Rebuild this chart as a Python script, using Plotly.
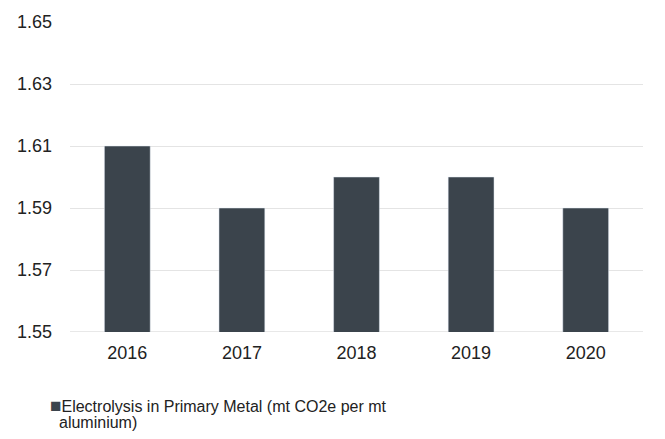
import plotly.graph_objects as go

years = ["2016", "2017", "2018", "2019", "2020"]
electrolysis = [1.61, 1.59, 1.60, 1.60, 1.59]
series_line1 = "Electrolysis in Primary Metal (mt CO2e per mt"
series_line2 = "aluminium)"
bar_color = "#3b444c"

fig = go.Figure()
fig.add_trace(go.Bar(x=years, y=electrolysis, marker_color=bar_color,
                     name=series_line1 + " " + series_line2, showlegend=False))

fig.update_layout(
    width=665, height=439,
    margin=dict(l=70, r=22, t=20, b=107),
    plot_bgcolor="white", paper_bgcolor="white",
    font=dict(family="Liberation Sans, Arial", size=17, color="#222222"),
    bargap=0.6,
    xaxis=dict(showline=False, ticks="", tickfont=dict(size=18),
               ticklabelstandoff=8),
    yaxis=dict(range=[1.55, 1.65], tick0=1.55, dtick=0.02, tickformat=".2f",
               showgrid=True, gridcolor="#e4e4e4", zeroline=False,
               ticks="", ticklabelstandoff=17, tickfont=dict(size=18)),
)
# bottom baseline at 1.55
fig.add_hline(y=1.55, line_color="#d0d0d0", line_width=1, layer="below")

# legend-style label under the chart (two lines, tight spacing)
fig.add_annotation(
    xref="paper", yref="paper", x=-0.038, y=-0.237,
    xanchor="left", yanchor="middle", align="left", showarrow=False,
    text=f"<span style='color:{bar_color};font-size:19px'>■</span>{series_line1}",
    font=dict(size=16, color="#222222"),
)
fig.add_annotation(
    xref="paper", yref="paper", x=-0.022, y=-0.292,
    xanchor="left", yanchor="middle", align="left", showarrow=False,
    text=series_line2,
    font=dict(size=16, color="#222222"),
)

fig.write_html("out.html", config={"displayModeBar": False},
               post_script="document.body.style.margin='0';")
